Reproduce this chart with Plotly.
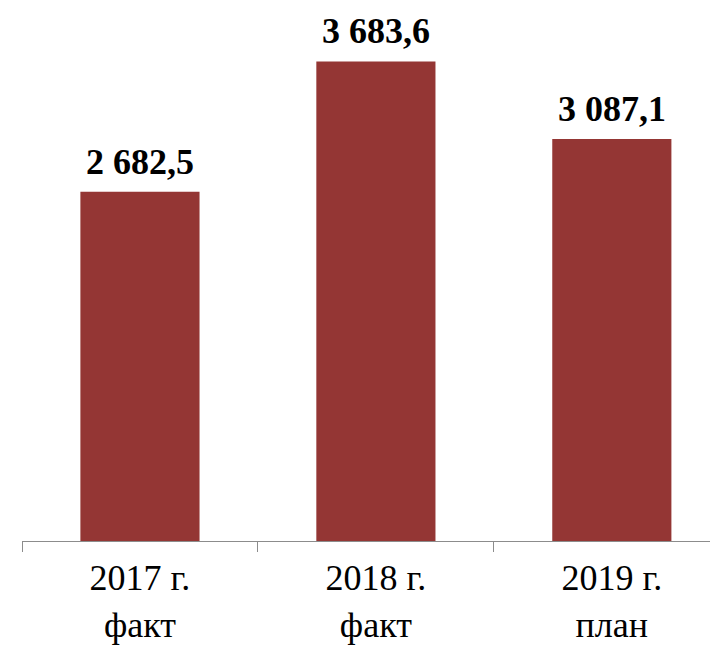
import plotly.graph_objects as go

categories = ['2017 г.<br>факт', '2018 г.<br>факт', '2019 г.<br>план']
values = [2682.5, 3683.6, 3087.1]
value_labels = ['2 682,5', '3 683,6', '3 087,1']

bar_color = '#943634'
serif = '"Liberation Serif", "DejaVu Serif", serif'

fig = go.Figure()

fig.add_trace(
    go.Bar(
        x = categories,
        y = values,
        marker = dict(color = bar_color, line = dict(width = 0)),
        width = 0.505,
        hoverinfo = 'skip'
    )
)

# value labels above the bars
for cat, val, lab in zip(categories, values, value_labels):
    fig.add_annotation(
        x = cat,
        y = val,
        text = '<b>' + lab + '</b>',
        showarrow = False,
        yanchor = 'bottom',
        yshift = 8,
        font = dict(family = serif, size = 36, color = '#000000')
    )

fig.update_layout(
    width = 710,
    height = 640,
    margin = dict(l = 14, r = 0, t = 0, b = 107),
    paper_bgcolor = '#ffffff',
    plot_bgcolor = 'rgba(0,0,0,0)',
    showlegend = False,
    font = dict(family = serif, size = 36, color = '#000000')
)

fig.update_xaxes(
    range = [-0.5, 2.45],
    tickson = 'boundaries',
    ticks = 'outside',
    ticklen = 10,
    tickcolor = '#8c8c8c',
    ticklabelstandoff = 5,
    showline = True,
    linecolor = '#8c8c8c',
    linewidth = 1,
    showgrid = False,
    tickfont = dict(family = serif, size = 36, color = '#000000')
)

fig.update_yaxes(
    range = [0, 4094],
    visible = False,
    showgrid = False
)

fig.write_html('out.html')
